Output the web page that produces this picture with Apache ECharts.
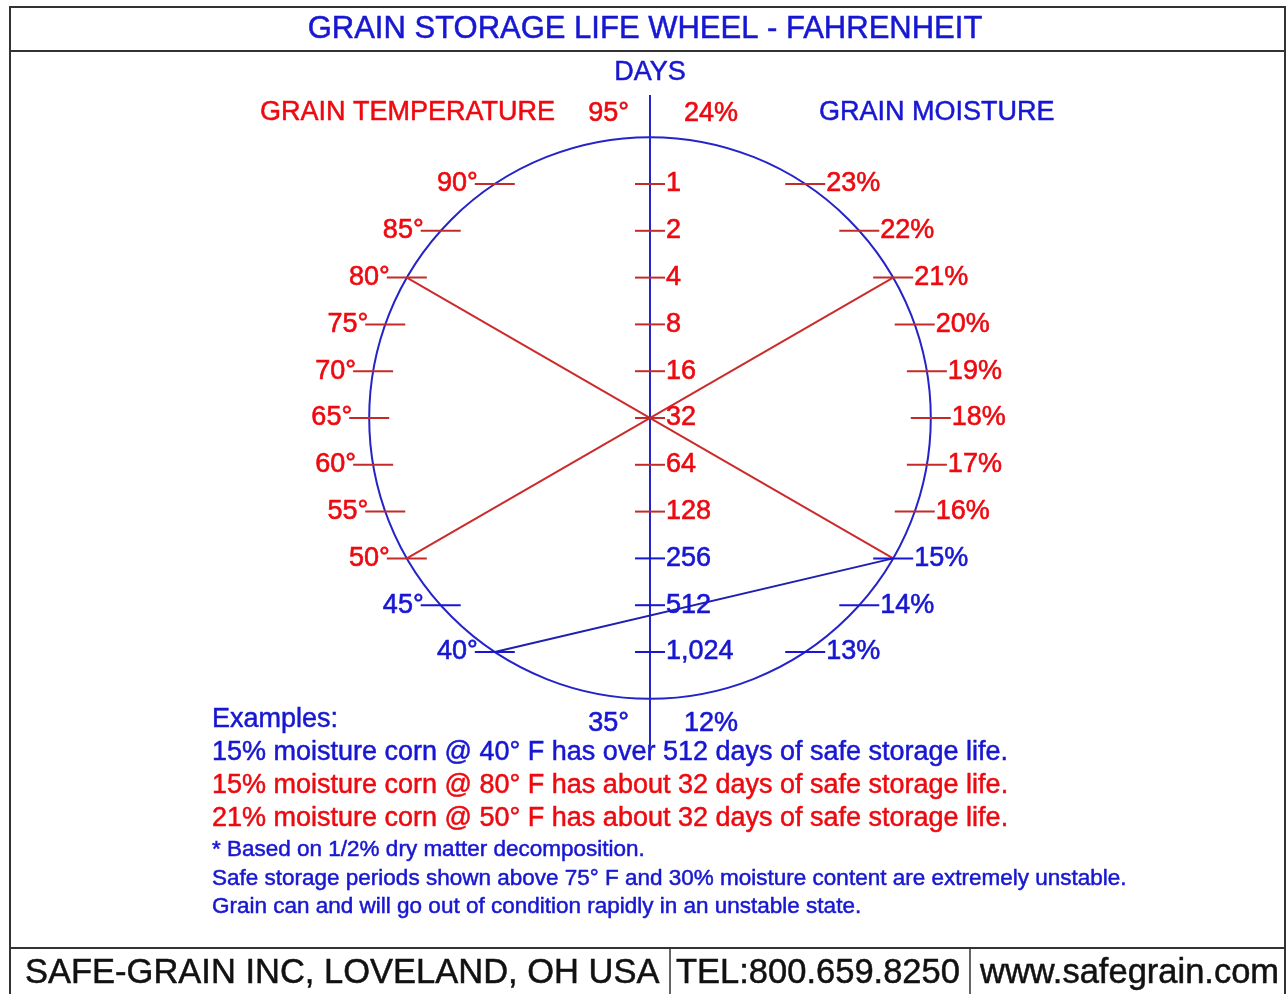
<!DOCTYPE html>
<html>
<head>
<meta charset="utf-8">
<title>Grain Storage Life Wheel</title>
<script src="https://cdn.jsdelivr.net/npm/echarts@6/dist/echarts.min.js"></script>
<style>
  html, body { margin: 0; padding: 0; background: #fff; }
  #wheel { width: 1288px; height: 994px; }
</style>
</head>
<body>
<div id="wheel"></div>
<script>
// scale values, top of the wheel to the bottom
const temps = [95, 90, 85, 80, 75, 70, 65, 60, 55, 50, 45, 40, 35]
const moistures = [24, 23, 22, 21, 20, 19, 18, 17, 16, 15, 14, 13, 12]
const days = [1, 2, 4, 8, 16, 32, 64, 128, 256, 512, 1024]

// worked examples drawn across the wheel
const exMoisture = [15, 15, 21]
const exTemp = [40, 80, 50]
const exDays = ['over 512', 'about 32', 'about 32']

const notes = [
  '* Based on 1/2% dry matter decomposition.',
  'Safe storage periods shown above 75\u00b0 F and 30% moisture content are extremely unstable.',
  'Grain can and will go out of condition rapidly in an unstable state.'
]

const RED = '#ec0a10'
const BLUE = '#1717d2'
const TICK_RED = '#c42a2a'
const FONT = '"Liberation Sans", Arial, sans-serif'

// wheel geometry in "level" units: one level per scale step
const W = 1288, H = 994
const UNIT = 46.8          // px per level
const CX = 650             // px of the day axis
const TOP = 137.2          // px of level 0
const R = 6                // radius in levels
const MID = 6

function circleX(level) {
  const d = level - MID
  return Math.sqrt(Math.max(0, R * R - d * d))
}

// temperatures >= 50, moistures >= 16 and days <= 128 are printed in red
const tempColor = t => (t >= 50 ? RED : BLUE)
const moistColor = m => (m >= 16 ? RED : BLUE)
const dayColor = d => (d <= 128 ? RED : BLUE)

function fmtDay(d) {
  return d >= 1000 ? d.toLocaleString('en-US') : String(d)
}

function labelStyle(c) {
  return { color: c, textBorderColor: c, textBorderWidth: 0.6 }
}

const labelFont = { fontFamily: FONT, fontSize: 27 }

let tempTicks = []
let moistTicks = []
for (let i = 1; i < temps.length - 1; i++) {
  let c = tempColor(temps[i])
  tempTicks.push({
    value: [-circleX(i), i],
    itemStyle: { color: c === RED ? TICK_RED : BLUE },
    label: Object.assign({ formatter: temps[i] + '\u00b0' }, labelStyle(c))
  })
}
for (let i = 1; i < moistures.length - 1; i++) {
  let c = moistColor(moistures[i])
  moistTicks.push({
    value: [circleX(i), i],
    itemStyle: { color: c === RED ? TICK_RED : BLUE },
    label: Object.assign({ formatter: moistures[i] + '%' }, labelStyle(c))
  })
}
let dayTicks = days.map((d, i) => ({
  value: [0, i + 1],
  itemStyle: { color: dayColor(d) === RED ? TICK_RED : BLUE },
  label: Object.assign({ formatter: fmtDay(d) }, labelStyle(dayColor(d)))
}))

// end labels at the very top and bottom of the wheel
const last = temps.length - 1
let endLabels = [
  { value: [0, 0], label: Object.assign({ position: 'left', distance: 21, offset: [0, -24], formatter: temps[0] + '\u00b0' }, labelStyle(tempColor(temps[0]))) },
  { value: [0, 0], label: Object.assign({ position: 'right', distance: 34, offset: [0, -24], formatter: moistures[0] + '%' }, labelStyle(moistColor(moistures[0]))) },
  { value: [0, last], label: Object.assign({ position: 'left', distance: 21, offset: [0, 25], formatter: temps[last] + '\u00b0' }, labelStyle(tempColor(temps[last]))) },
  { value: [0, last], label: Object.assign({ position: 'right', distance: 34, offset: [0, 25], formatter: moistures[last] + '%' }, labelStyle(moistColor(moistures[last]))) }
]

// example lines: temperature point -> moisture point
let exampleSeries = exTemp.map((t, i) => {
  let tl = temps.indexOf(t)
  let ml = moistures.indexOf(exMoisture[i])
  let blue = exDays[i].indexOf('512') >= 0
  return {
    type: 'line',
    symbol: 'none',
    silent: true,
    z: 3,
    lineStyle: { color: blue ? '#1f1fb0' : '#cc2b2b', width: 2 },
    data: [[-circleX(tl), tl], [circleX(ml), ml]]
  }
})

const exampleLines = exTemp.map((t, i) =>
  exMoisture[i] + '% moisture corn @ ' + t + '\u00b0 F has ' + exDays[i] + ' days of safe storage life.')

function text(x, y, str, size, color, extra) {
  return {
    type: 'text',
    silent: true,
    style: Object.assign({
      x: x, y: y, text: str,
      fill: color,
      stroke: color,
      lineWidth: 0.5,
      font: size + 'px ' + FONT,
      textVerticalAlign: 'middle'
    }, extra || {})
  }
}

function tickSeries(size, pos, dist, data) {
  return {
    type: 'scatter',
    silent: true,
    z: 4,
    symbol: 'rect',
    symbolSize: size,
    itemStyle: { opacity: 1 },
    label: Object.assign({ show: true, position: pos, distance: dist }, labelFont),
    data: data
  }
}

const chart = echarts.init(document.getElementById('wheel'), null, { renderer: 'canvas' })

const option = {
  animation: false,
  backgroundColor: '#fff',
  grid: { left: 0, right: 0, top: 0, bottom: 0 },
  xAxis: {
    type: 'value',
    min: -CX / UNIT,
    max: (W - CX) / UNIT,
    show: false
  },
  yAxis: {
    type: 'value',
    inverse: true,
    min: -TOP / UNIT,
    max: (H - TOP) / UNIT,
    show: false
  },
  series: [
    {
      // the wheel
      type: 'custom',
      silent: true,
      z: 2,
      data: [[0, MID]],
      renderItem: function (params, api) {
        let c = api.coord([0, MID])
        let r = api.size([R, 0])[0]
        return {
          type: 'circle',
          shape: { cx: c[0], cy: c[1], r: r },
          style: { fill: 'none', stroke: '#2424c8', lineWidth: 2 }
        }
      }
    },
    {
      // day axis
      type: 'line',
      symbol: 'none',
      silent: true,
      z: 2,
      lineStyle: { color: '#2424c8', width: 2 },
      data: [[0, -0.9], [0, 13]]
    },
    tickSeries([40, 2], 'left', -3, tempTicks),
    tickSeries([40, 2], 'right', 1, moistTicks),
    tickSeries([30, 2], 'right', 1, dayTicks),
    {
      type: 'scatter',
      silent: true,
      z: 4,
      symbolSize: 0,
      itemStyle: { opacity: 1 },
      label: Object.assign({ show: true }, labelFont),
      data: endLabels
    }
  ].concat(exampleSeries),
  graphic: [
    // frame
    { type: 'rect', silent: true, shape: { x: 10, y: 7, width: 1275, height: 1000 }, style: { fill: 'none', stroke: '#333', lineWidth: 2 } },
    { type: 'line', silent: true, shape: { x1: 10, y1: 51, x2: 1285, y2: 51 }, style: { stroke: '#333', lineWidth: 2 } },
    { type: 'line', silent: true, shape: { x1: 10, y1: 948, x2: 1285, y2: 948 }, style: { stroke: '#333', lineWidth: 2 } },
    { type: 'line', silent: true, shape: { x1: 670, y1: 948, x2: 670, y2: 994 }, style: { stroke: '#333', lineWidth: 1.5 } },
    { type: 'line', silent: true, shape: { x1: 970, y1: 948, x2: 970, y2: 994 }, style: { stroke: '#333', lineWidth: 1.5 } },

    text(645, 29, 'GRAIN STORAGE LIFE WHEEL - FAHRENHEIT', 31, BLUE, { textAlign: 'center' }),
    text(650, 73, 'DAYS', 27, BLUE, { textAlign: 'center' }),
    text(260, 113, 'GRAIN TEMPERATURE', 27, RED),
    text(819, 113, 'GRAIN MOISTURE', 27, BLUE),

    text(212, 720, 'Examples:', 27, BLUE),
    text(212, 753, exampleLines[0], 27, BLUE),
    text(212, 786, exampleLines[1], 27, RED),
    text(212, 819, exampleLines[2], 27, RED),
    text(212, 850, notes[0], 22.5, BLUE),
    text(212, 879, notes[1], 22.5, BLUE),
    text(212, 907, notes[2], 22.5, BLUE),

    text(25, 973, 'SAFE-GRAIN INC, LOVELAND, OH USA', 34.5, '#111'),
    text(676, 973, 'TEL:800.659.8250', 34.5, '#111'),
    text(980, 973, 'www.safegrain.com', 34.5, '#111')
  ]
}

chart.setOption(option)
</script>
</body>
</html>
